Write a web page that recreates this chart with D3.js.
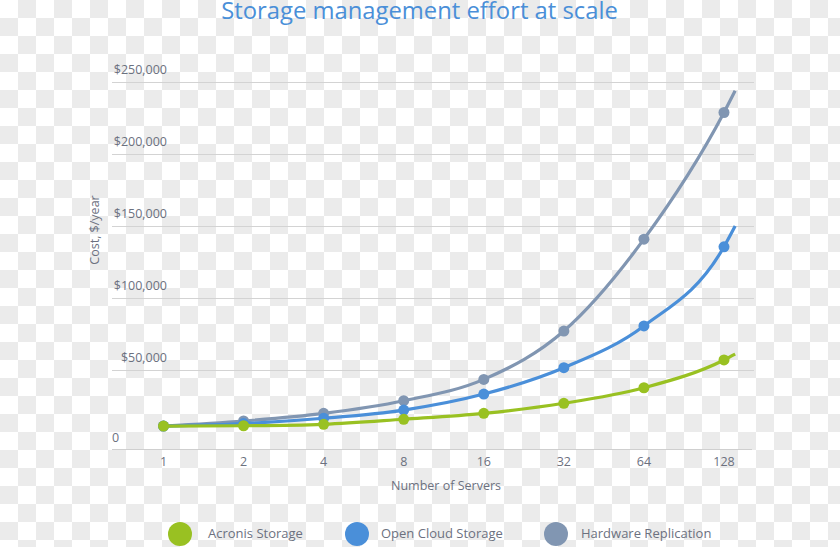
<!DOCTYPE html>
<html>
<head>
<meta charset="utf-8">
<script src="https://cdn.jsdelivr.net/npm/d3@7"></script>
<style>
html,body{margin:0;padding:0;background:#fff;}
svg{display:block;}
text{font-family:"Open Sans",sans-serif;}
</style>
</head>
<body>
<svg id="chart" width="840" height="547"></svg>
<script>
const servers = [1, 2, 4, 8, 16, 32, 64, 128];
const seriesNames = ["Acronis Storage", "Open Cloud Storage", "Hardware Replication"];
const acronis  = [11300, 11500, 12500, 16000, 20100, 27100, 37900, 57200];
const openCloud = [11300, 13000, 16700, 22400, 33500, 51800, 80800, 135800];
const hardware = [11300, 14800, 20100, 28900, 43700, 77300, 141100, 229100];
// lines continue a little past the last marker
const lineEndX = 141;
const lineEndValues = [61300, 150200, 244200];
const yTicks = [50000, 100000, 150000, 200000, 250000];
const xTickLabels = ["1", "2", "4", "8", "16", "32", "64", "128"];
const colors = ["#99c122", "#4a8fd9", "#8196b2"];

const svg = d3.select("#chart");

// checkerboard background (transparent-look)
const defs = svg.append("defs");
const pat = defs.append("pattern").attr("id", "chk").attr("width", 36).attr("height", 36)
  .attr("patternUnits", "userSpaceOnUse");
pat.append("rect").attr("width", 36).attr("height", 36).attr("fill", "#ffffff");
pat.append("rect").attr("x", 18).attr("y", 0).attr("width", 18).attr("height", 18).attr("fill", "#ebebeb");
pat.append("rect").attr("x", 0).attr("y", 18).attr("width", 18).attr("height", 18).attr("fill", "#ebebeb");
svg.append("rect").attr("width", 840).attr("height", 547).attr("fill", "url(#chk)");

const x = d3.scaleLog().base(2).domain([1, 128]).range([163.5, 724]);
const y = d3.scaleLinear().domain([0, 250000]).range([442.3, 82.4]);
const textColor = "#6c717f";

// title
svg.append("text").attr("x", 419.5).attr("y", 19).attr("text-anchor", "middle")
  .attr("font-size", 23.8).attr("fill", "#4a8fd8").text("Storage management effort at scale");

// gridlines
svg.append("g").selectAll("line").data(yTicks).join("line")
  .attr("x1", 112).attr("x2", 754)
  .attr("y1", d => Math.round(y(d)) + 0.5).attr("y2", d => Math.round(y(d)) + 0.5)
  .attr("stroke", "#d3d3d3").attr("stroke-width", 1);

// y labels
const fmt = d3.format("$,");
svg.append("g").selectAll("text").data(yTicks).join("text")
  .attr("x", 167).attr("y", d => y(d) - 8)
  .attr("text-anchor", "end").attr("font-size", 12.5).attr("fill", textColor)
  .text(d => fmt(d));

// baseline and zero label
const baseY = Math.round(y(0)) + 7.5;
svg.append("line").attr("x1", 112).attr("x2", 752).attr("y1", baseY).attr("y2", baseY)
  .attr("stroke", "#cfcfcf").attr("stroke-width", 1);
svg.append("text").attr("x", 112).attr("y", baseY - 8).attr("font-size", 12.5)
  .attr("fill", textColor).text("0");

// x tick labels
svg.append("g").selectAll("text").data(servers).join("text")
  .attr("x", d => x(d)).attr("y", 466).attr("text-anchor", "middle")
  .attr("font-size", 12.5).attr("fill", textColor)
  .text((d, i) => xTickLabels[i]);

// axis titles
svg.append("text").attr("x", 446).attr("y", 490).attr("text-anchor", "middle")
  .attr("font-size", 12.5).attr("fill", textColor).text("Number of Servers");
svg.append("text").attr("transform", "translate(99,230) rotate(-90)")
  .attr("text-anchor", "middle").attr("font-size", 12.5).attr("fill", textColor)
  .text("Cost, $/year");

// series
const allSeries = [acronis, openCloud, hardware];
const line = d3.line().x(d => x(d[0])).y(d => y(d[1])).curve(d3.curveMonotoneX);
const drawOrder = [2, 1, 0];
drawOrder.forEach(si => {
  const vals = allSeries[si];
  const pts = servers.map((s, i) => [s, vals[i]]).concat([[lineEndX, lineEndValues[si]]]);
  svg.append("path").attr("d", line(pts)).attr("fill", "none")
    .attr("stroke", colors[si]).attr("stroke-width", 3.2).attr("stroke-linecap", "butt");
  svg.append("g").selectAll("circle").data(servers.map((s, i) => [s, vals[i]])).join("circle")
    .attr("cx", d => x(d[0])).attr("cy", d => y(d[1])).attr("r", 5.5)
    .attr("fill", colors[si]);
});

// legend
const legendX = [180, 357, 556];
const legendTextOffset = [28, 24, 25];
const lg = svg.append("g");
seriesNames.forEach((n, i) => {
  lg.append("circle").attr("cx", legendX[i]).attr("cy", 534).attr("r", 12).attr("fill", colors[i]);
  lg.append("text").attr("x", legendX[i] + legendTextOffset[i]).attr("y", 538).attr("font-size", 13)
    .attr("fill", textColor).text(n);
});
</script>
</body>
</html>
